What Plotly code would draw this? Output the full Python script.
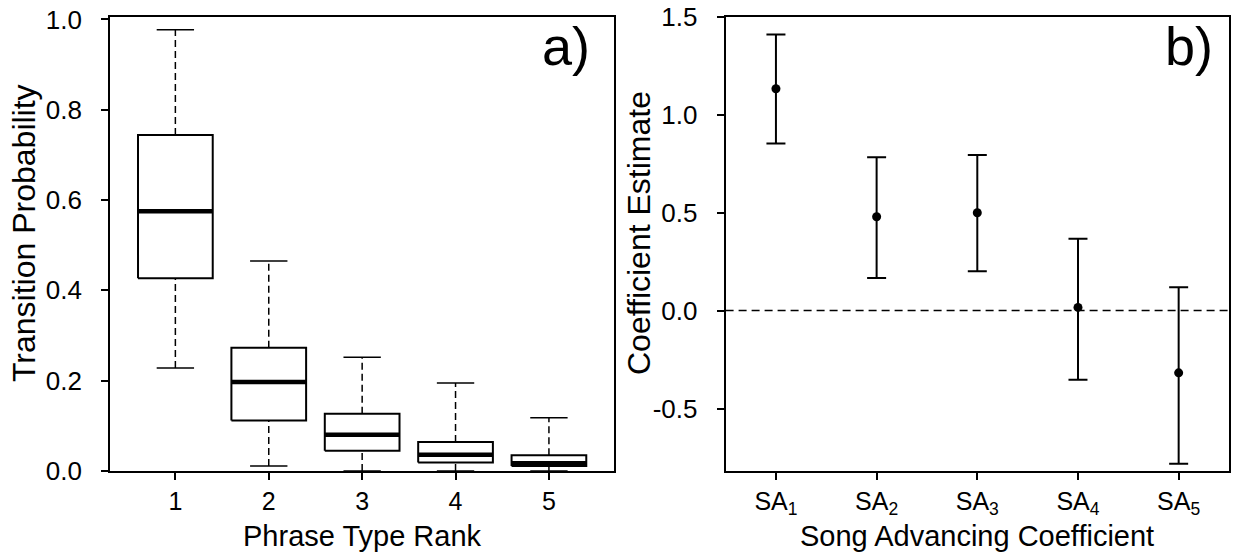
import plotly.graph_objects as go

# ---- Panel a) data: box plot summary per phrase type rank ----
ranks = [1, 2, 3, 4, 5]
whisk_low = [0.228, 0.011, 0.0, 0.0, 0.0]
q1 = [0.427, 0.112, 0.045, 0.019, 0.011]
median = [0.575, 0.197, 0.080, 0.036, 0.017]
q3 = [0.744, 0.273, 0.127, 0.064, 0.035]
whisk_high = [0.977, 0.465, 0.252, 0.195, 0.118]
rank_ticks = ["1", "2", "3", "4", "5"]

# ---- Panel b) data: coefficient estimates with intervals ----
coef_pos = [1, 2, 3, 4, 5]
coef_labels = ["SA<sub>1</sub>", "SA<sub>2</sub>", "SA<sub>3</sub>", "SA<sub>4</sub>", "SA<sub>5</sub>"]
estimate = [1.132, 0.479, 0.499, 0.016, -0.318]
ci_upper = [1.409, 0.783, 0.794, 0.366, 0.119]
ci_lower = [0.853, 0.166, 0.200, -0.353, -0.782]

FONT = "Liberation Sans, Arial, sans-serif"
BOX_HALF = 0.4
CAP_HALF = 0.2

fig = go.Figure()

# dashed whiskers
wx, wy = [], []
for r, lo, a, b, hi in zip(ranks, whisk_low, q1, q3, whisk_high):
    wx += [r, r, None, r, r, None]
    wy += [b, hi, None, lo, a, None]
fig.add_trace(go.Scatter(x=wx, y=wy, mode="lines", line=dict(color="black", width=1.5, dash="7px,4px"),
                         xaxis="x", yaxis="y", showlegend=False, hoverinfo="skip"))
# caps
cx, cy = [], []
for r, lo, hi in zip(ranks, whisk_low, whisk_high):
    cx += [r - CAP_HALF, r + CAP_HALF, None, r - CAP_HALF, r + CAP_HALF, None]
    cy += [hi, hi, None, lo, lo, None]
fig.add_trace(go.Scatter(x=cx, y=cy, mode="lines", line=dict(color="black", width=1.5),
                         xaxis="x", yaxis="y", showlegend=False, hoverinfo="skip"))
# boxes
bx, by = [], []
for r, a, b in zip(ranks, q1, q3):
    bx += [r - BOX_HALF, r + BOX_HALF, r + BOX_HALF, r - BOX_HALF, r - BOX_HALF, None]
    by += [a, a, b, b, a, None]
fig.add_trace(go.Scatter(x=bx, y=by, mode="lines", fill="toself", fillcolor="white",
                         line=dict(color="black", width=2), xaxis="x", yaxis="y",
                         showlegend=False, hoverinfo="skip"))
# medians
mx, my = [], []
for r, m in zip(ranks, median):
    mx += [r - BOX_HALF, r + BOX_HALF, None]
    my += [m, m, None]
fig.add_trace(go.Scatter(x=mx, y=my, mode="lines", line=dict(color="black", width=4.5),
                         xaxis="x", yaxis="y", showlegend=False, hoverinfo="skip"))

# panel b: zero line
fig.add_trace(go.Scatter(x=[0.5, 5.5], y=[0, 0], mode="lines",
                         line=dict(color="black", width=1.5, dash="8px,5px"),
                         xaxis="x2", yaxis="y2", showlegend=False, hoverinfo="skip"))
fig.add_trace(go.Scatter(
    x=coef_pos, y=estimate, mode="markers",
    marker=dict(color="black", size=9),
    error_y=dict(type="data", symmetric=False,
                 array=[u - e for u, e in zip(ci_upper, estimate)],
                 arrayminus=[e - l for e, l in zip(estimate, ci_lower)],
                 color="black", thickness=2, width=9.5),
    xaxis="x2", yaxis="y2", showlegend=False))

axis_common = dict(showline=True, linecolor="black", linewidth=1.8, mirror=True,
                   ticks="outside", ticklen=7, tickwidth=1.5, tickcolor="black",
                   showgrid=False, zeroline=False, automargin=False)
yfont = dict(family=FONT, size=26, color="black")
xfont = dict(family=FONT, size=25, color="black")

y_top = 1 - 16.7 / 554
y_bot = 1 - 471 / 554

fig.update_layout(
    width=1236, height=554,
    margin=dict(l=0, r=0, t=0, b=0),
    paper_bgcolor="white", plot_bgcolor="white",
    xaxis=dict(domain=[110 / 1236, 614.3 / 1236], range=[0.3, 5.7],
               tickvals=ranks, ticktext=rank_ticks, anchor="y", tickfont=xfont, **axis_common),
    yaxis=dict(domain=[y_bot, y_top], range=[0, 1.006], tickvals=[0, 0.2, 0.4, 0.6, 0.8, 1.0],
               ticktext=["0.0", "0.2", "0.4", "0.6", "0.8", "1.0"], anchor="x",
               ticklabelstandoff=14, tickfont=yfont, **axis_common),
    xaxis2=dict(domain=[725.6 / 1236, 1229 / 1236], range=[0.5, 5.5],
                tickvals=coef_pos, ticktext=coef_labels, anchor="y2", tickfont=xfont, **axis_common),
    yaxis2=dict(domain=[y_bot, y_top], range=[-0.819, 1.5], tickvals=[-0.5, 0, 0.5, 1.0, 1.5],
                ticktext=["-0.5", "0.0", "0.5", "1.0", "1.5"], anchor="x2",
                ticklabelstandoff=14, tickfont=yfont, **axis_common),
    font=dict(family=FONT, color="black"),
)

title_font = dict(family=FONT, size=29, color="black")
vtitle_font = dict(family=FONT, size=32, color="black")
fig.add_annotation(text="Phrase Type Rank", xref="paper", yref="paper",
                   x=362 / 1236, y=1 - 536 / 554, xanchor="center", yanchor="middle",
                   showarrow=False, font=title_font)
fig.add_annotation(text="Song Advancing Coefficient", xref="paper", yref="paper",
                   x=977 / 1236, y=1 - 536 / 554, xanchor="center", yanchor="middle",
                   showarrow=False, font=title_font)
fig.add_annotation(text="Transition Probability", xref="paper", yref="paper",
                   x=24 / 1236, y=1 - 233 / 554, xanchor="center", yanchor="middle",
                   textangle=-90, showarrow=False, font=vtitle_font)
fig.add_annotation(text="Coefficient Estimate", xref="paper", yref="paper",
                   x=639 / 1236, y=1 - 233 / 554, xanchor="center", yanchor="middle",
                   textangle=-90, showarrow=False, font=vtitle_font)
fig.add_annotation(text="a)", xref="paper", yref="paper",
                   x=592 / 1236, y=1 - 46 / 554, xanchor="right", yanchor="middle",
                   showarrow=False, font=dict(family=FONT, size=54, color="black"))
fig.add_annotation(text="b)", xref="paper", yref="paper",
                   x=1215 / 1236, y=1 - 46 / 554, xanchor="right", yanchor="middle",
                   showarrow=False, font=dict(family=FONT, size=54, color="black"))

fig.write_html("out.html")
